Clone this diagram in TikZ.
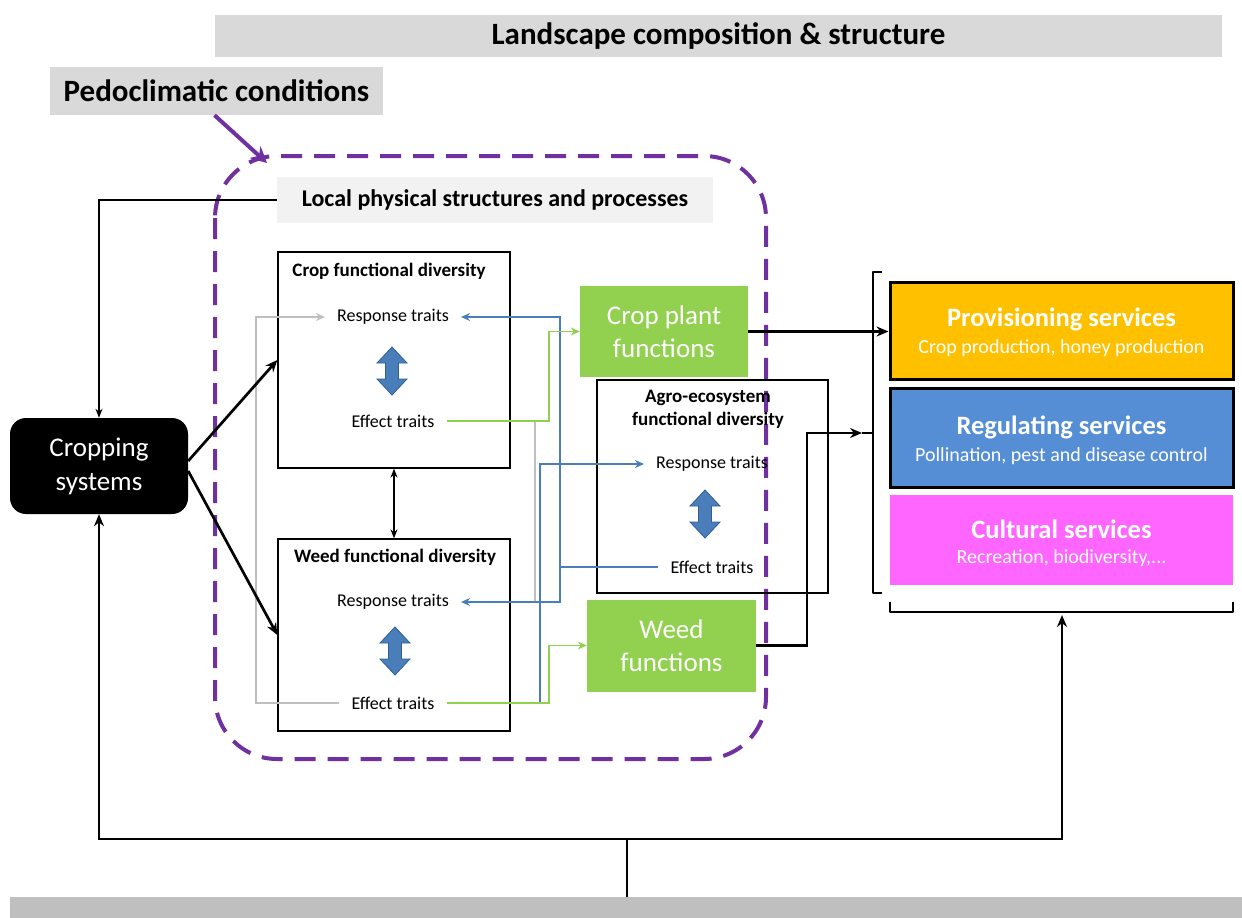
\documentclass[tikz,border=0pt]{standalone}
\usepackage{fontspec}
\setmainfont{Carlito}
\usetikzlibrary{arrows.meta}
\definecolor{pur}{HTML}{7030A0}
\definecolor{lgray}{HTML}{D9D9D9}
\definecolor{vlgray}{HTML}{F2F2F2}
\definecolor{mgray}{HTML}{BFBFBF}
\definecolor{fgreen}{HTML}{92D050}
\definecolor{blin}{HTML}{4A7EBB}
\definecolor{glin}{HTML}{BFBFBF}
\definecolor{orng}{HTML}{FFC000}
\definecolor{sblue}{HTML}{558ED5}
\definecolor{mgnt}{HTML}{FF66FF}
\definecolor{arrfill}{HTML}{4A7EBB}
\definecolor{arrdraw}{HTML}{2F5F97}
\newcommand\fsz[2]{\fontsize{#1}{#2}\selectfont}
\tikzset{
  barbox/.style={fill=lgray, inner sep=0, font=\fsz{31}{36}\bfseries},
  fbox/.style={draw=black, line width=1.3, inner sep=0},
  boxtitle/.style={font=\fsz{19}{23}\bfseries, align=center, inner sep=0},
  trait/.style={font=\fsz{18}{22}, inner ysep=0, inner xsep=12},
  gfun/.style={fill=fgreen, text=white, font=\fsz{27}{33}, align=center, inner sep=0},
  serv/.style={inner sep=0, minimum width=343},
  stitle/.style={text=white, font=\fsz{26.5}{30}\bfseries, inner sep=0},
  ssub/.style={text=white, font=\fsz{20}{24}, inner sep=0},
  conn/.style={line width=2.7, -{Stealth[length=12,width=10]}},
  thinc/.style={line width=1.3, -{Stealth[length=9,width=7]}},
  bluec/.style={draw=blin, line width=1.5, -{Stealth[length=9,width=8]}},
  greenc/.style={draw=fgreen, line width=1.5, -{Stealth[length=9,width=8]}},
  grayc/.style={draw=glin, line width=1.5},
  bracestyle/.style={line width=1.8, line join=round},
  dblarr/.pic={
    \draw[fill=arrfill, draw=arrdraw, line width=0.8]
      (0,-24) -- (15,-8) -- (6.5,-8) -- (6.5,8) -- (15,8) -- (0,24)
      -- (-15,8) -- (-6.5,8) -- (-6.5,-8) -- (-15,-8) -- cycle;
  }
}
\begin{document}
\begin{tikzpicture}[x=1pt,y=-1pt]
\useasboundingbox (0,0) rectangle (1242,918);
% background bars
\node[barbox, minimum width=1007, minimum height=42] (land) at (718.5,36) {Landscape composition \& structure};
\node[barbox, minimum width=333, minimum height=48] (pedo) at (216.5,91) {Pedoclimatic conditions};
\node[fill=mgray, minimum width=1232, minimum height=30, inner sep=0, anchor=north west] (bbar) at (10,897) {};

% dashed local boundary
\draw[draw=pur, line width=4, dash pattern=on 21 off 12, rounded corners=62] (215,156) rectangle (766,759);
\coordinate (dtip) at (267,163);
\draw[draw=pur, line width=4, -{Stealth[length=16,width=16]}] ([xshift=-2]pedo.south) -- (dtip);

\node[fill=vlgray, minimum width=436, minimum height=46, inner sep=0, font=\fsz{24}{28}\bfseries] (local) at (495,200) {Local physical structures and processes};

% cropping systems
\node[fill=black, text=white, rounded corners=16, minimum width=178, minimum height=96, inner sep=0, align=center, font=\fsz{27}{34}] (cs) at (99,466) {Cropping\\systems};

% crop box
\node[fbox, minimum width=232, minimum height=216] (cbox) at (394,360) {};
\node[boxtitle] (ctitle) at (389,271) {Crop functional diversity};
\node[trait] (cresp) at (393,317) {Response traits};
\pic at (392,371) {dblarr};
\node[trait] (ceff) at (393,421) {Effect traits};

% weed box
\node[fbox, minimum width=232, minimum height=192] (wbox) at (394,635) {};
\node[boxtitle] (wtitle) at (395,557) {Weed functional diversity};
\node[trait] (wresp) at (393,602) {Response traits};
\pic at (395,651) {dblarr};
\node[trait] (weff) at (393,703) {Effect traits};

% agro box
\node[fbox, minimum width=231, minimum height=213] (abox) at (712.5,486.5) {};
\node[boxtitle] (atitle) at (708,409) {Agro-ecosystem\\functional diversity};
\node[trait] (aresp) at (712,464) {Response traits};
\pic at (705,514) {dblarr};
\node[trait] (aeff) at (712,567) {Effect traits};

% green function boxes
\node[gfun, minimum width=168, minimum height=91] (cpf) at (664,331.5) {Crop plant\\functions};
\node[gfun, minimum width=169, minimum height=92] (wf) at (671.5,645.5) {Weed\\functions};

% services
\node[serv, fill=orng, draw=black, line width=3, minimum height=97] (prov) at (1061.5,330.5) {};
\node[stitle] (provT) at (1061.5,319) {Provisioning services};
\node[ssub] (provS) at (1061.5,348) {Crop production, honey production};
\node[serv, fill=sblue, draw=black, line width=3, minimum height=99] (reg) at (1061.5,438) {};
\node[stitle] (regT) at (1061.5,427) {Regulating services};
\node[ssub] (regS) at (1061.5,456) {Pollination, pest and disease control};
\node[serv, fill=mgnt, minimum height=90] (cult) at (1061.5,540) {};
\node[stitle] (cultT) at (1061.5,529) {Cultural services};
\node[ssub] (cultS) at (1061.5,558) {Recreation, biodiversity,...};

% junction coordinates
\coordinate (gxl) at (256,0);
\coordinate (gxm) at (535,0);
\coordinate (bxw) at (540,0);
\coordinate (gxv) at (549,0);
\coordinate (bxv) at (560,0);
\coordinate (jx) at (807,0);
\coordinate (lbtip) at (862,433);
\coordinate (bbtip) at (1062,615);
\coordinate (bj) at (627,839);

% gray connectors
\draw[grayc, -{Stealth[length=9,width=8]}] (weff.west) -- (weff.west -| gxl) |- (cresp.west);
\draw[grayc] (ceff.east -| gxm) -- (wresp.east -| gxm);
% blue connectors
\draw[bluec] (aeff.west) -- (aeff.west -| bxv) |- (cresp.east);
\draw[bluec] (aeff.west -| bxv) |- (wresp.east);
\draw[bluec] (weff.east) -- (weff.east -| bxw) |- (aresp.west);
% green connectors
\draw[greenc] (ceff.east) -- (ceff.east -| gxv) |- (cpf.west);
\draw[greenc] (weff.east) -- (weff.east -| gxv) |- (wf.west);

% black connectors
\draw[thinc] (local.west) -| (cs.north);
\draw[conn] ([yshift=5]cs.east) -- (cbox.west);
\draw[conn] ([yshift=-5]cs.east) -- (wbox.west);
\draw[thinc, {Stealth[length=9,width=7]}-{Stealth[length=9,width=7]}] (cbox.south) -- (wbox.north);
\draw[conn] (cpf.east) -- (cpf.east -| prov.west);
\draw[conn] (wf.east) -- (wf.east -| jx) |- (lbtip);

% braces
\draw[bracestyle] (882,272) -- (873,272) -- (873,593) -- (882,593);
\draw[bracestyle] (873,433) -- (lbtip);
\draw[bracestyle] (890,602) -- (890,612) -- (1233,612) -- (1233,602);

% bottom feedback
\draw[conn] (bj |- bbar.north) -- (bj) -| (cs.south);
\draw[conn] (bj) -| (bbtip);
\end{tikzpicture}
\end{document}
